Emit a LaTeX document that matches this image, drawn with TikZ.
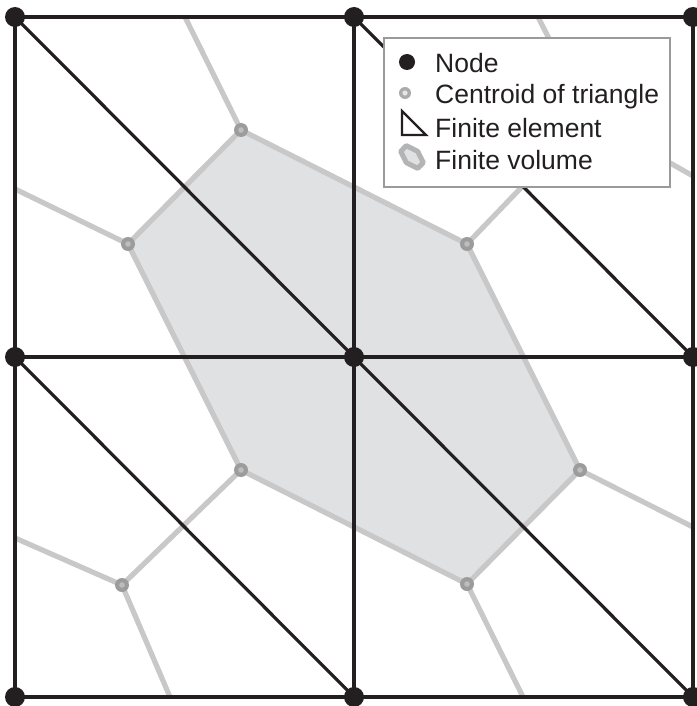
\documentclass[tikz,border=0pt]{standalone}
\usepackage{fontspec}
\setmainfont{Liberation Sans}
\definecolor{ink}{HTML}{231F20}
\definecolor{dual}{HTML}{C8C8C8}
\definecolor{volfill}{HTML}{E0E1E3}
\definecolor{cent}{HTML}{9C9C9C}
\definecolor{centin}{HTML}{BDBDBD}
\definecolor{legframe}{HTML}{9A9A9A}
\definecolor{leghex}{HTML}{B4B4B4}
\begin{document}
\begin{tikzpicture}[x=1pt,y=-1pt,
  meshline/.style={draw=ink,line width=3.2pt},
  dualline/.style={draw=dual,line width=5.2pt,line join=round},
  meshnode/.style={circle,fill=ink,inner sep=0pt,minimum size=20pt},
  centroidmark/.style={circle,fill=cent,inner sep=0pt,minimum size=14pt,
     path picture={\fill[centin] (path picture bounding box.center) circle (2.8pt);}},
  legtext/.style={anchor=base west,inner sep=0pt,font=\fontsize{26.5}{30}\selectfont,text=ink},
  legendbox/.style={draw=legframe,fill=white,line width=1.2pt,inner sep=0pt,
     minimum width=286pt,minimum height=149pt}]
\useasboundingbox (0,0) rectangle (696,706);
% grid points
\coordinate (g00) at (15,17);  \coordinate (g10) at (354,17);  \coordinate (g20) at (693,17);
\coordinate (g01) at (15,357); \coordinate (g11) at (354,357); \coordinate (g21) at (693,357);
\coordinate (g02) at (15,697); \coordinate (g12) at (354,697); \coordinate (g22) at (693,697);
% centroids
\coordinate (cU00) at (241,130); \coordinate (cL00) at (128,244);
\coordinate (cU10) at (589,117); \coordinate (cL10) at (467,244);
\coordinate (cU01) at (241,470); \coordinate (cL01) at (122,585);
\coordinate (cU11) at (580,470); \coordinate (cL11) at (467,584);
% boundary ends of dual edges
\coordinate (bT0) at (185,17);  \coordinate (bT1) at (538,17);
\coordinate (bL0) at (15,189);  \coordinate (bL1) at (15,538);
\coordinate (bR0) at (693,176); \coordinate (bR1) at (693,527);
\coordinate (bB0) at (170,697); \coordinate (bB1) at (523,697);
% finite volume
\fill[volfill] (cU00) -- (cL10) -- (cU11) -- (cL11) -- (cU01) -- (cL00) -- cycle;
\draw[dualline] (cU00) -- (cL10) -- (cU11) -- (cL11) -- (cU01) -- (cL00) -- cycle;
% other dual edges
\draw[dualline] (cU10) -- (cL10);
\draw[dualline] (cU01) -- (cL01);
\draw[dualline] (cU00) -- (bT0);
\draw[dualline] (cU10) -- (bT1);
\draw[dualline] (cL00) -- (bL0);
\draw[dualline] (cL01) -- (bL1);
\draw[dualline] (cU10) -- (bR0);
\draw[dualline] (cU11) -- (bR1);
\draw[dualline] (cL01) -- (bB0);
\draw[dualline] (cL11) -- (bB1);
% mesh
\draw[meshline] (g00) -- (g20) -- (g22) -- (g02) -- cycle;
\draw[meshline] (g10) -- (g12);
\draw[meshline] (g01) -- (g21);
\draw[meshline] (g00) -- (g11);
\draw[meshline] (g10) -- (g21);
\draw[meshline] (g01) -- (g12);
\draw[meshline] (g11) -- (g22);
% centroid markers
\foreach \c in {U00,L00,U10,L10,U01,L01,U11,L11}
  \node[centroidmark] (m\c) at (c\c) {};
% mesh nodes
\foreach \g in {00,10,20,01,11,21,02,12,22}
  \node[meshnode] (n\g) at (g\g) {};
% legend
\node[legendbox] (legend) at (527,112.5) {};
\node[circle,fill=ink,inner sep=0pt,minimum size=16pt] (lnode) at (407,62) {};
\node[circle,fill=cent!85,inner sep=0pt,minimum size=12pt,
  path picture={\fill[white!80!gray] (path picture bounding box.center) circle (2.6pt);}] (lcent) at (405,93) {};
\coordinate (ta) at (402,111); \coordinate (tb) at (402,135); \coordinate (tc) at (426,135);
\draw[ink,line width=2.4pt,line join=miter] (ta) -- (tb) -- (tc) -- cycle;
\begin{scope}[shift={(412,157)},scale=0.05]
\fill[volfill] (-113,-227) -- (113,-113) -- (226,113) -- (113,227) -- (-113,113) -- (-226,-113) -- cycle;
\draw[draw=leghex,line width=5pt,line join=round] (-113,-227) -- (113,-113) -- (226,113) -- (113,227) -- (-113,113) -- (-226,-113) -- cycle;
\end{scope}
\node[legtext] (t1) at (435,73) {Node};
\node[legtext] (t2) at (435,103) {Centroid of triangle};
\node[legtext] (t3) at (435,137) {Finite element};
\node[legtext] (t4) at (435,169) {Finite volume};
\end{tikzpicture}
\end{document}
